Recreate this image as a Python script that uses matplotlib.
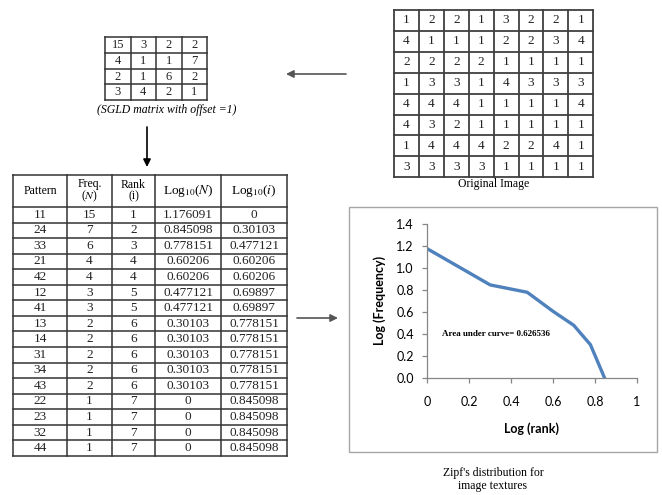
import matplotlib.pyplot as plt

plt.rcParams['mathtext.fontset'] = 'stix'

# original 8x8 image (grey levels 1..4)
orig_image = [
    [1, 2, 2, 1, 3, 2, 2, 1],
    [4, 1, 1, 1, 2, 2, 3, 4],
    [2, 2, 2, 2, 1, 1, 1, 1],
    [1, 3, 3, 1, 4, 3, 3, 3],
    [4, 4, 4, 1, 1, 1, 1, 4],
    [4, 3, 2, 1, 1, 1, 1, 1],
    [1, 4, 4, 4, 2, 2, 4, 1],
    [3, 3, 3, 3, 1, 1, 1, 1],
]

# SGLD matrix, offset = 1
sgld = [
    [15, 3, 2, 2],
    [4, 1, 1, 7],
    [2, 1, 6, 2],
    [3, 4, 2, 1],
]

# pattern table
headers = ["Pattern", "Freq.\n($N$)", "Rank\n(i)", r"Log$_{10}$($N$)", r"Log$_{10}$($i$)"]
pattern = ["11", "24", "33", "21", "42", "12", "41", "13", "14", "31", "34", "43", "22", "23", "32", "44"]
freq = [15, 7, 6, 4, 4, 3, 3, 2, 2, 2, 2, 2, 1, 1, 1, 1]
rank = [1, 2, 3, 4, 4, 5, 5, 6, 6, 6, 6, 6, 7, 7, 7, 7]
log_n = ["1.176091", "0.845098", "0.778151", "0.60206", "0.60206", "0.477121", "0.477121",
         "0.30103", "0.30103", "0.30103", "0.30103", "0.30103", "0", "0", "0", "0"]
log_i = ["0", "0.30103", "0.477121", "0.60206", "0.60206", "0.69897", "0.69897",
         "0.778151", "0.778151", "0.778151", "0.778151", "0.778151",
         "0.845098", "0.845098", "0.845098", "0.845098"]

serif = "Liberation Serif"
W, H = 662, 495

fig = plt.figure(figsize=(W / 100, H / 100), dpi=100)
bg = fig.add_axes([0, 0, 1, 1])
bg.set_xlim(0, W)
bg.set_ylim(H, 0)
bg.axis("off")


def draw_grid(ax, x0, y0, col_edges, row_edges, color, lw):
    for cx in col_edges:
        ax.plot([x0 + cx, x0 + cx], [y0 + row_edges[0], y0 + row_edges[-1]], color=color, lw=lw,
                solid_capstyle="projecting")
    for ry in row_edges:
        ax.plot([x0 + col_edges[0], x0 + col_edges[-1]], [y0 + ry, y0 + ry], color=color, lw=lw,
                solid_capstyle="projecting")


# ---- original image grid
ox, oy, ocw, orh = 394, 10, 24.9, 20.9
draw_grid(bg, ox, oy, [i * ocw for i in range(9)], [j * orh for j in range(9)], "#404040", 1.3)
for r, row in enumerate(orig_image):
    for c, v in enumerate(row):
        bg.text(ox + (c + 0.5) * ocw, oy + (r + 0.5) * orh, str(v), ha="center", va="center",
                family=serif, fontsize=9.5, color="#222222")
bg.text(ox + 4 * ocw, 184, "Original Image", ha="center", va="center", family=serif, fontsize=8.5)

# ---- SGLD matrix
sx, sy, scw, srh = 105, 37, 25.5, 15.8
draw_grid(bg, sx, sy, [i * scw for i in range(5)], [j * srh for j in range(5)], "#333333", 1.1)
for r, row in enumerate(sgld):
    for c, v in enumerate(row):
        bg.text(sx + (c + 0.5) * scw, sy + (r + 0.5) * srh, str(v), ha="center", va="center",
                family=serif, fontsize=9, color="#222222")
bg.text(167, 110, "(SGLD matrix with offset =1)", ha="center", va="center", family=serif,
        style="italic", fontsize=8.5)

# ---- pattern table
tx, ty = 13, 175
cols = [0, 54, 99, 142, 208, 274]
rows = [0, 32] + [32 + (k + 1) * 15.56 for k in range(len(pattern))]
draw_grid(bg, tx, ty, cols, rows, "#333333", 1.1)
for c, h in enumerate(headers):
    bg.text(tx + (cols[c] + cols[c + 1]) / 2, ty + 16, h, ha="center", va="center",
            family=serif, fontsize=8.5 if c < 3 else 9.5, linespacing=0.95)
for k in range(len(pattern)):
    vals = [pattern[k], str(freq[k]), str(rank[k]), log_n[k], log_i[k]]
    yc = ty + (rows[k + 1] + rows[k + 2]) / 2
    for c, v in enumerate(vals):
        bg.text(tx + (cols[c] + cols[c + 1]) / 2, yc, v, ha="center", va="center",
                family=serif, fontsize=9.5, color="#222222")

# ---- arrows
arrow = dict(arrowstyle="-|>", color="black", lw=1.2, mutation_scale=11, shrinkA=0, shrinkB=0)
bg.annotate("", xy=(286, 74), xytext=(346, 74), arrowprops=dict(arrow, color="#555555"))
bg.annotate("", xy=(147, 167), xytext=(147, 127), arrowprops=arrow)
bg.annotate("", xy=(338, 318), xytext=(297, 318), arrowprops=dict(arrow, color="#555555"))

# ---- chart frame
bg.add_patch(plt.Rectangle((349, 207), 308, 245, fill=False, edgecolor="#A6A6A6", lw=1.0))

# ---- Zipf plot
ax = fig.add_axes([427 / W, (H - 377.7) / H, 210 / W, 153.7 / H])
ax.plot([float(v) for v in log_i], [float(v) for v in log_n], color="#4F81BD", lw=2.4,
        solid_joinstyle="round")
ax.set_xlim(0, 1)
ax.set_ylim(0, 1.4)
ax.set_xticks([0, 0.2, 0.4, 0.6, 0.8, 1])
ax.set_xticklabels(["0", "0.2", "0.4", "0.6", "0.8", "1"])
ax.set_yticks([0, 0.2, 0.4, 0.6, 0.8, 1.0, 1.2, 1.4])
ax.set_yticklabels([f"{v:.1f}" for v in [0, 0.2, 0.4, 0.6, 0.8, 1.0, 1.2, 1.4]])
for s in ["top", "right"]:
    ax.spines[s].set_visible(False)
for s in ["left", "bottom"]:
    ax.spines[s].set_color("#868686")
    ax.spines[s].set_linewidth(0.9)
ax.tick_params(direction="out", length=3.5, width=0.9, color="#868686", labelsize=9,
               pad=6)
for lab in ax.get_xticklabels() + ax.get_yticklabels():
    lab.set_family("Lato")
ax.tick_params(axis="x", pad=10)
ax.set_xlabel("Log (rank)", family="Lato", fontweight="bold", fontsize=9, labelpad=10)
ax.set_ylabel("Log (Frequency)", family="Lato", fontweight="bold", fontsize=9, labelpad=7)
ax.patch.set_alpha(0)
ax.text(0.07, 0.4, "Area under curve= 0.626536", family=serif, fontweight="bold", fontsize=6.5,
        va="center")

bg.text(493, 473, "Zipf's distribution for", ha="center", va="center", family=serif, fontsize=8.5)
bg.text(493, 486, "image textures", ha="center", va="center", family=serif, fontsize=8.5)

fig.savefig("out.png", dpi=100)
